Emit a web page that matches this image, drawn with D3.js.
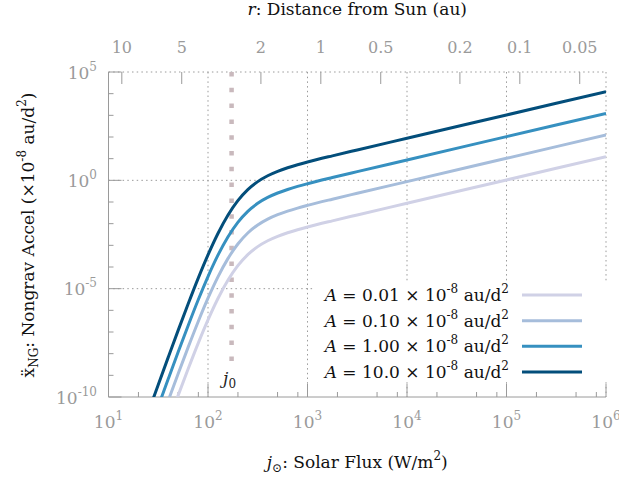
<!DOCTYPE html>
<html><head><meta charset="utf-8">
<script src="https://cdn.jsdelivr.net/npm/d3@7"></script>
<style>body{margin:0;background:#fff}svg{display:block}text{font-family:"DejaVu Serif",serif}</style>
</head><body>
<svg id="c" width="619" height="477"></svg>
<script>
// ---- data ----
const flux = [19.95,25.12,31.62,39.81,50.12,63.10,79.43,100,125.9,158.5,199.5,251.2,316.2,398.1,501.2,631.0,794.3,1000,1778,3162,10000,100000,1000000];
const accelA001 = [1.05e-15,1.98e-14,3.69e-13,6.74e-12,1.19e-10,1.95e-9,2.91e-8,3.63e-7,3.52e-6,2.44e-5,1.15e-4,3.71e-4,8.72e-4,1.626e-3,2.603e-3,3.794e-3,5.23e-3,6.981e-3,1.349e-2,2.529e-2,8.74e-2,1.039,12.35];
const accelA010 = [1.05e-14,1.98e-13,3.69e-12,6.74e-11,1.19e-9,1.95e-8,2.91e-7,3.63e-6,3.52e-5,2.44e-4,1.15e-3,3.71e-3,8.72e-3,1.626e-2,2.603e-2,3.794e-2,5.23e-2,6.981e-2,0.1349,0.2529,0.874,10.39,123.5];
const accelA100 = [1.05e-13,1.98e-12,3.69e-11,6.74e-10,1.19e-8,1.95e-7,2.91e-6,3.63e-5,3.52e-4,2.44e-3,1.15e-2,3.71e-2,8.72e-2,0.1626,0.2603,0.3794,0.523,0.6981,1.349,2.529,8.74,103.9,1235];
const accelA1000 = [1.05e-12,1.98e-11,3.69e-10,6.74e-9,1.19e-7,1.95e-6,2.91e-5,3.63e-4,3.52e-3,2.44e-2,0.115,0.371,0.872,1.626,2.603,3.794,5.23,6.981,13.49,25.29,87.4,1039,12350];
const seriesLabels = ["0.01","0.10","1.00","10.0"];
const seriesValues = [accelA001, accelA010, accelA100, accelA1000];
const xTickExps = [1,2,3,4,5,6];
const yTickExps = [-10,-5,0,5];
const rTicks = [10,5,2,1,0.5,0.2,0.1,0.05];
const rTickLabels = ["10","5","2","1","0.5","0.2","0.1","0.05"];
const solarConst = 1361;   // W/m^2 at 1 au
const j0 = 172.6;

// ---- styles ----
const colors = ["#d0d1e6","#a6bddb","#3690c0","#034e7b"];
const grey = "#9a9a9a";

const svg = d3.select("#c");
const L=108.5, R=606, T=72, B=397;
const x = d3.scaleLog().domain([10,1e6]).range([L,R]);
const y = d3.scaleLog().domain([1e-10,1e5]).range([B,T]);

// grid
const gg = svg.append("g").attr("stroke",grey).attr("stroke-width",1).attr("stroke-dasharray","1.5,3.2");
xTickExps.filter(e=>e>1).forEach(e=>{
  gg.append("line").attr("x1",x(10**e)).attr("x2",x(10**e)).attr("y1",T).attr("y2",B);
});
yTickExps.filter(e=>e>-10).forEach(e=>{
  gg.append("line").attr("x1",L).attr("x2",R).attr("y1",y(10**e)).attr("y2",y(10**e));
});

// axes lines
svg.append("line").attr("x1",L).attr("x2",L).attr("y1",T).attr("y2",B).attr("stroke",grey);
svg.append("line").attr("x1",L).attr("x2",R).attr("y1",B).attr("y2",B).attr("stroke",grey);

// bottom ticks
const tk = svg.append("g").attr("stroke",grey).attr("stroke-width",1);
xTickExps.forEach(e=>{
  tk.append("line").attr("x1",x(10**e)).attr("x2",x(10**e)).attr("y1",B).attr("y2",B-13);
  if(e<6)[2,5,8].forEach(m=>{
    const v=m*10**e;
    tk.append("line").attr("x1",x(v)).attr("x2",x(v)).attr("y1",B).attr("y2",B-5);
  });
});
// left ticks
d3.range(-10,6).forEach(e=>{
  const major = yTickExps.includes(e);
  tk.append("line").attr("x1",L).attr("x2",L+(major?13:5)).attr("y1",y(10**e)).attr("y2",y(10**e));
});
// top ticks (distance)
rTicks.forEach(r=>{
  const xv = x(solarConst/(r*r));
  tk.append("line").attr("x1",xv).attr("x2",xv).attr("y1",T).attr("y2",T+12);
});

// tick labels
function pow10(sel, e, fs, sfs){
  sel.append("tspan").text("10");
  sel.append("tspan").attr("font-size",sfs).attr("dy",-8).text(e<0? "-"+(-e) : String(e));
}
xTickExps.forEach(e=>{
  const t = svg.append("text").attr("x",x(10**e)).attr("y",428).attr("text-anchor","middle")
    .attr("font-size",17).attr("fill",grey);
  pow10(t,e,17,12);
});
yTickExps.forEach(e=>{
  const t = svg.append("text").attr("x",97).attr("y",y(10**e)+6.5).attr("text-anchor","end")
    .attr("font-size",17).attr("fill",grey);
  pow10(t,e,17,12);
});
rTicks.forEach((r,i)=>{
  svg.append("text").attr("x",x(solarConst/(r*r))).attr("y",53).attr("text-anchor","middle")
    .attr("font-size",16).attr("fill",grey).text(rTickLabels[i]);
});

// j0 line
svg.append("line").attr("x1",x(j0)).attr("x2",x(j0)).attr("y1",T).attr("y2",362)
  .attr("stroke","#c9b9bd").attr("stroke-width",4.5).attr("stroke-dasharray","4.5,11.3");
const j0t = svg.append("text").attr("x",x(j0)-2).attr("y",384).attr("text-anchor","middle").attr("font-size",17).attr("fill","#222");
j0t.append("tspan").attr("font-style","italic").text("j");
j0t.append("tspan").attr("font-size",12).attr("dy",4).text("0");

// curves
svg.append("clipPath").attr("id","pc").append("rect").attr("x",L).attr("y",T).attr("width",R-L).attr("height",B-T);
const line = d3.line().x(d=>x(d[0])).y(d=>y(d[1])).curve(d3.curveMonotoneX);
const cg = svg.append("g").attr("clip-path","url(#pc)");
seriesValues.forEach((vals,i)=>{
  cg.append("path").datum(flux.map((f,k)=>[f,vals[k]])).attr("d",line)
    .attr("fill","none").attr("stroke",colors[i]).attr("stroke-width",3);
});

// legend
svg.append("rect").attr("x",313).attr("y",281).attr("width",296).attr("height",100).attr("fill","#fff").attr("rx",4);
const rowY = [295,320.7,346.3,372];
seriesLabels.forEach((lab,i)=>{
  const t = svg.append("text").attr("x",509).attr("y",rowY[i]+6).attr("text-anchor","end").attr("font-size",17).attr("fill","#111");
  t.append("tspan").attr("font-style","italic").text("A");
  t.append("tspan").text(" = "+lab+" × 10");
  t.append("tspan").attr("font-size",12).attr("dy",-8).text("-8");
  t.append("tspan").attr("dy",8).text(" au/d");
  t.append("tspan").attr("font-size",12).attr("dy",-8).text("2");
  svg.append("line").attr("x1",522).attr("x2",582).attr("y1",rowY[i]).attr("y2",rowY[i])
    .attr("stroke",colors[i]).attr("stroke-width",3);
});

// axis titles
const xt = svg.append("text").attr("x",(L+R)/2).attr("y",468).attr("text-anchor","middle").attr("font-size",17).attr("fill","#111");
xt.append("tspan").attr("font-style","italic").text("j");
xt.append("tspan").attr("font-size",12).attr("dy",4).text("⊙");
xt.append("tspan").attr("dy",-4).text(": Solar Flux (W/m");
xt.append("tspan").attr("font-size",12).attr("dy",-8).text("2");
xt.append("tspan").attr("dy",8).text(")");

const tt = svg.append("text").attr("x",(L+R)/2).attr("y",15).attr("text-anchor","middle").attr("font-size",17).attr("fill","#111");
tt.append("tspan").attr("font-style","italic").text("r");
tt.append("tspan").text(": Distance from Sun (au)");

const yt = svg.append("text").attr("transform","translate(34,235) rotate(-90)").attr("text-anchor","middle").attr("font-size",17).attr("fill","#111");
yt.append("tspan").text("ẍ");
yt.append("tspan").attr("font-size",12).attr("dy",4).text("NG");
yt.append("tspan").attr("dy",-4).text(": Nongrav Accel (×10");
yt.append("tspan").attr("font-size",12).attr("dy",-8).text("-8");
yt.append("tspan").attr("dy",8).text(" au/d");
yt.append("tspan").attr("font-size",12).attr("dy",-8).text("2");
yt.append("tspan").attr("dy",8).text(")");
</script>
</body></html>
